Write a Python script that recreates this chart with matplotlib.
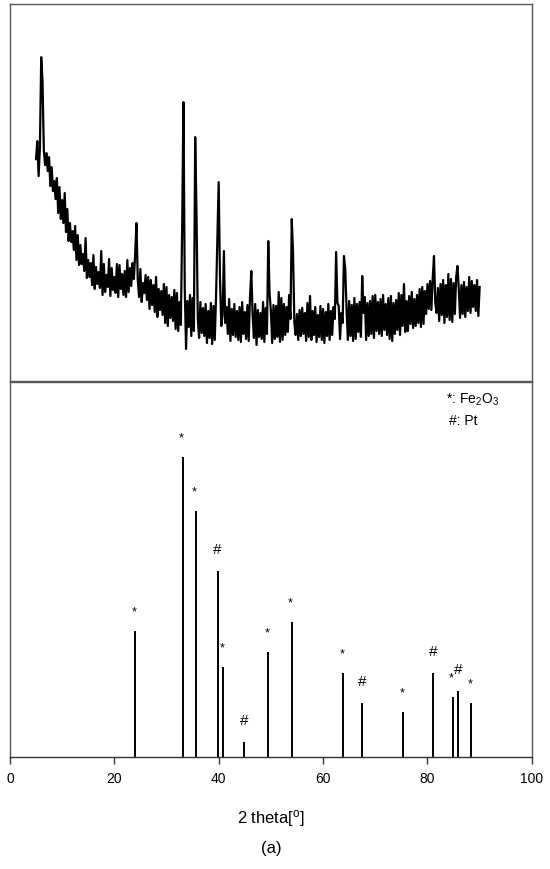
import numpy as np
import matplotlib
matplotlib.use('Agg')
import matplotlib.pyplot as plt

plt.rcParams['font.family'] = ['Liberation Sans', 'DejaVu Sans']
plt.rcParams['mathtext.default'] = 'regular'

# measured XRD pattern, 2theta from 5 to 90 in 0.25 deg steps (one row = one degree)
meas_start = 5.0
meas_step = 0.25
meas_counts = [
    222, 240, 205, 234,   # 5
    324, 300, 231, 216,   # 6
    228, 210, 224, 195,
    214, 190, 200, 182,
    203, 168, 194, 162,
    181, 158, 188, 149,   # 10
    172, 140, 158, 139,
    150, 131, 155, 121,
    146, 116, 136, 117,
    127, 110, 143, 103,
    121, 104, 118, 96,    # 15
    126, 92, 114, 97,
    109, 93, 130, 86,
    117, 89, 106, 94,
    122, 85, 113, 91,
    104, 88, 117, 84,     # 20
    116, 92, 107, 86,
    110, 84, 121, 89,
    113, 95, 118, 102,
    127, 158, 101, 84,
    112, 79, 98, 88,      # 25
    106, 81, 104, 72,
    101, 76, 96, 69,
    104, 64, 92, 71,
    90, 66, 97, 58,
    94, 55, 86, 63,       # 30
    84, 60, 91, 52,
    88, 50, 79, 56,
    152, 279, 93, 32,
    80, 54, 86, 45,
    83, 50, 244, 168,     # 35
    62, 43, 79, 48,
    73, 45, 77, 38,
    70, 43, 78, 37,
    75, 41, 86, 145,
    199, 104, 55, 66,     # 40
    130, 58, 74, 47,
    82, 40, 72, 46,
    77, 44, 70, 41,
    74, 39, 79, 47,
    69, 42, 76, 40,       # 45
    84, 110, 66, 43,
    77, 36, 71, 44,
    68, 42, 79, 39,
    73, 47, 140, 88,
    70, 38, 76, 42,       # 50
    75, 44, 89, 39,
    83, 41, 77, 46,
    74, 49, 86, 62,
    162, 128, 58, 46,
    67, 41, 71, 45,       # 55
    73, 47, 68, 40,
    78, 44, 85, 41,
    70, 46, 74, 39,
    66, 44, 75, 41,
    72, 38, 69, 45,       # 60
    77, 41, 70, 46,
    74, 62, 129, 78,
    75, 42, 68, 58,
    125, 112, 72, 41,
    80, 45, 76, 40,       # 65
    83, 42, 77, 49,
    79, 44, 105, 68,
    84, 41, 78, 45,
    80, 47, 85, 43,
    86, 50, 79, 47,       # 70
    82, 45, 86, 51,
    77, 46, 83, 42,
    85, 40, 78, 47,
    81, 51, 88, 46,
    86, 55, 97, 49,       # 75
    80, 50, 85, 57,
    89, 53, 82, 55,
    86, 58, 92, 54,
    94, 57, 90, 67,
    97, 72, 100, 71,      # 80
    102, 125, 78, 68,
    93, 60, 97, 66,
    101, 58, 96, 64,
    107, 61, 102, 59,
    98, 67, 104, 115,     # 85
    92, 63, 96, 67,
    99, 64, 94, 70,
    104, 68, 100, 74,
    96, 70, 101, 65,
    94,                   # 90
]

# reference stick pattern
ref_pos = [24.0, 33.1, 35.6, 39.8, 40.9, 44.9, 49.5, 54.0, 63.9, 67.5,
           75.4, 81.1, 84.9, 85.8, 88.4]
ref_int = [42, 100, 82, 62, 30, 5, 35, 45, 28, 18, 15, 28, 20, 22, 18]
ref_mark = ['*', '*', '*', '#', '*', '#', '*', '*', '*', '#',
            '*', '#', '*', '#', '*']

fig = plt.figure(figsize=(5.5, 8.7), dpi=100)
ax1 = fig.add_axes([0.018, 0.561, 0.949, 0.433])
ax2 = fig.add_axes([0.018, 0.129, 0.949, 0.431])

frame = '#555555'

tt = meas_start + meas_step * np.arange(len(meas_counts))
ax1.plot(tt, meas_counts, color='black', lw=1.6)
ax1.set_xlim(0, 100)
ax1.set_ylim(0, 377)
ax1.set_xticks([])
ax1.set_yticks([])
for s in ax1.spines.values():
    s.set_color(frame)
    s.set_linewidth(1.0)

ax2.vlines(ref_pos, 0, ref_int, color='black', lw=1.4)
for x, h, m in zip(ref_pos, ref_int, ref_mark):
    if m == '*':
        ax2.annotate(m, (x, h), xytext=(-1, 12), textcoords='offset points',
                     ha='center', va='baseline', fontsize=9)
    else:
        ax2.annotate(m, (x, h), xytext=(0, 13), textcoords='offset points',
                     ha='center', va='baseline', fontsize=11)

ax2.text(0.835, 0.955, r'*: Fe$_2$O$_3$', transform=ax2.transAxes,
         fontsize=10, ha='left', va='center')
ax2.text(0.841, 0.898, '#: Pt', transform=ax2.transAxes,
         fontsize=10, ha='left', va='center')

ax2.set_xlim(0, 100)
ax2.set_ylim(0, 125)
ax2.set_xticks([0, 20, 40, 60, 80, 100])
ax2.set_yticks([])
ax2.tick_params(axis='x', direction='out', length=5, width=1, labelsize=10,
                color='#333333', pad=5)
for s in ax2.spines.values():
    s.set_color(frame)
    s.set_linewidth(1.0)
ax2.spines['bottom'].set_color('#333333')

ax2.set_xlabel(r'2 theta[$^{o}$]', fontsize=12, labelpad=16)
fig.text(0.494, 0.025, '(a)', ha='center', va='center', fontsize=12)

fig.savefig('out.png', dpi=100)
